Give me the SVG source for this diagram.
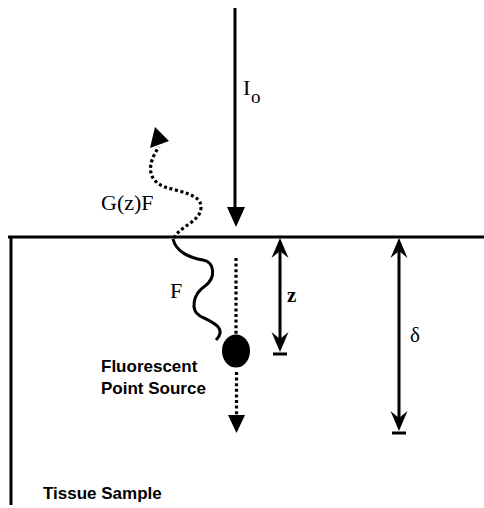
<svg xmlns="http://www.w3.org/2000/svg" width="484" height="508" viewBox="0 0 484 508">
<style>
.ln{stroke:#000;stroke-width:3;fill:none}
.dot{stroke:#000;stroke-width:3.2;fill:none;stroke-dasharray:3 2.6}
.hd{fill:#000;stroke:none}
.serif{font-family:"Liberation Serif","Times New Roman",serif;fill:#000}
.sans{font-family:"Liberation Sans",Arial,sans-serif;font-weight:bold;fill:#000;font-size:17px}
</style>
<rect width="484" height="508" fill="#fff"/>
<g id="tissue">
  <path class="ln" d="M8,237 H484 M11,237 V505"/>
  <text class="sans" x="43" y="499" font-size="16.5">Tissue Sample</text>
</g>
<g id="point-source">
  <ellipse cx="236" cy="351" rx="14" ry="16.5" fill="#000"/>
  <text class="sans" x="101" y="372">Fluorescent</text>
  <text class="sans" x="101" y="394">Point Source</text>
</g>
<g id="connectors">
  <g id="incident">
    <path class="ln" d="M235,8 V210"/>
    <path class="hd" d="M227,207 L245,207 L236,227 Z"/>
    <text class="serif" x="243" y="95" font-size="22">I</text>
    <text class="serif" x="251" y="103" font-size="19">o</text>
  </g>
  <g id="escape">
    <path class="dot" d="M174,238 C180,226 200,222 201,208 C202,194 180,192 165,187 C148,181 146,165 159,147"/>
    <path class="hd" d="M155,127 L150,148 L169,141 Z"/>
    <text class="serif" x="101" y="210" font-size="22">G(z)F</text>
  </g>
  <g id="emission">
    <path class="ln" d="M173,239 C176,252 190,258 203,260 C215,262 216,278 205,286 C193,294 190,310 200,316 C212,322 228,328 216,340" stroke-width="2.6"/>
    <text class="serif" x="170" y="298" font-size="22">F</text>
  </g>
  <g id="path-down">
    <path class="dot" d="M236,258 V335 M236.5,372 V416"/>
    <path class="hd" d="M228,415 L245,415 L236.5,433 Z"/>
  </g>
  <g id="depth-z">
    <path class="ln" d="M280,248 V342 M273,354 H287"/>
    <path class="hd" d="M280,238 L288.5,258 L280,251 L271.5,258 Z"/>
    <path class="hd" d="M280,352 L288.5,332 L280,339 L271.5,332 Z"/>
    <text class="serif" x="287" y="302" font-size="21" font-weight="bold">z</text>
  </g>
  <g id="depth-delta">
    <path class="ln" d="M399,248 V421 M392,433 H406"/>
    <path class="hd" d="M399,238 L407.5,258 L399,251 L390.5,258 Z"/>
    <path class="hd" d="M399,431 L407.5,411 L399,418 L390.5,411 Z"/>
    <text class="serif" x="410" y="342" font-size="21">δ</text>
  </g>
</g>
</svg>
